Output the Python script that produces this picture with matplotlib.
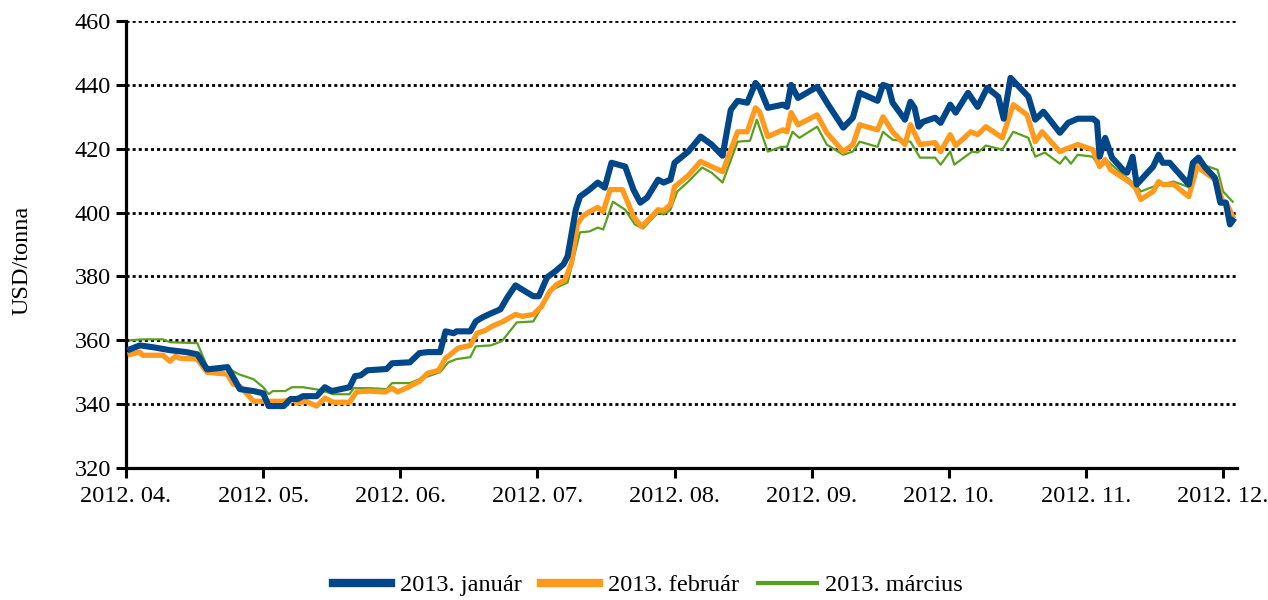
import matplotlib as mpl
mpl.use('Agg')
import matplotlib.pyplot as plt
from matplotlib.lines import Line2D

plt.rcParams['font.family'] = ['Liberation Serif', 'DejaVu Serif']

# x = months since 2012-04 (evenly spaced month axis), y = USD/tonna
month_labels = ['2012. 04.', '2012. 05.', '2012. 06.', '2012. 07.', '2012. 08.',
                '2012. 09.', '2012. 10.', '2012. 11.', '2012. 12.']

jan_x = [0.03, 0.10, 0.20, 0.32, 0.44, 0.52, 0.59, 0.66, 0.74, 0.83, 0.93, 1.00,
         1.04, 1.15, 1.20, 1.25, 1.29, 1.39, 1.45, 1.50, 1.63, 1.67, 1.71, 1.76,
         1.90, 1.94, 2.07, 2.14, 2.20, 2.29, 2.33, 2.39, 2.41, 2.51, 2.55, 2.60,
         2.66, 2.73, 2.78, 2.84, 2.90, 2.97, 3.01, 3.07, 3.13, 3.19, 3.22, 3.28,
         3.31, 3.38, 3.44, 3.49, 3.54, 3.64, 3.70, 3.75, 3.80, 3.88, 3.92, 3.97,
         4.00, 4.10, 4.19, 4.27, 4.35, 4.41, 4.46, 4.53, 4.59, 4.62, 4.68, 4.79,
         4.82, 4.85, 4.90, 5.04, 5.12, 5.23, 5.30, 5.35, 5.48, 5.52, 5.56, 5.59,
         5.68, 5.72, 5.75, 5.78, 5.81, 5.90, 5.94, 6.01, 6.05, 6.14, 6.21, 6.28,
         6.36, 6.40, 6.45, 6.58, 6.63, 6.69, 6.81, 6.87, 6.94, 7.05, 7.08, 7.10,
         7.14, 7.19, 7.27, 7.30, 7.34, 7.37, 7.49, 7.53, 7.56, 7.61, 7.75, 7.78,
         7.82, 7.87, 7.94, 7.98, 8.02, 8.05, 8.07]
jan_y = [357.2, 358.4, 357.8, 356.9, 356.3, 355.6, 350.9, 351.2, 351.6, 344.7, 344.1, 343.4,
         339.4, 339.4, 341.6, 341.6, 342.5, 342.5, 345.3, 344.1, 345.3, 348.8, 349.0, 350.6,
         351.0, 352.8, 353.1, 356.0, 356.3, 356.3, 362.8, 362.2, 362.8, 362.8, 365.9, 367.2,
         368.4, 369.7, 373.4, 377.2, 375.6, 373.8, 373.8, 379.7, 381.6, 383.8, 386.3, 401.0,
         405.0, 407.2, 409.4, 407.8, 415.6, 414.4, 407.2, 403.1, 404.7, 410.3, 409.4, 410.3,
         415.6, 419.1, 423.8, 421.3, 417.8, 432.2, 435.0, 434.4, 440.6, 439.1, 432.8, 433.8,
         433.1, 440.0, 435.9, 439.4, 433.8, 426.6, 429.7, 437.5, 435.0, 440.0, 439.4, 434.4,
         429.1, 434.7, 432.8, 426.9, 428.4, 429.7, 428.1, 433.8, 431.3, 437.5, 433.1, 439.1,
         436.3, 429.4, 442.2, 436.3, 429.1, 431.6, 425.0, 428.1, 429.4, 429.4, 428.4, 417.5,
         423.4, 417.2, 413.4, 412.5, 417.5, 408.8, 414.4, 418.1, 415.6, 415.6, 408.8, 415.6,
         417.2, 414.1, 410.9, 403.1, 403.1, 396.3, 397.5]

feb_x = [0.03, 0.10, 0.12, 0.27, 0.32, 0.36, 0.39, 0.52, 0.59, 0.66, 0.74, 0.78,
         0.83, 0.93, 1.03, 1.15, 1.22, 1.25, 1.31, 1.39, 1.45, 1.51, 1.63, 1.68,
         1.77, 1.89, 1.94, 1.98, 2.07, 2.14, 2.20, 2.28, 2.33, 2.35, 2.42, 2.51,
         2.56, 2.62, 2.67, 2.75, 2.84, 2.89, 2.97, 3.03, 3.09, 3.14, 3.20, 3.25,
         3.29, 3.33, 3.38, 3.44, 3.48, 3.53, 3.62, 3.70, 3.76, 3.88, 3.92, 3.97,
         4.00, 4.10, 4.19, 4.27, 4.35, 4.46, 4.53, 4.59, 4.62, 4.68, 4.79, 4.82,
         4.85, 4.90, 5.04, 5.11, 5.23, 5.30, 5.35, 5.48, 5.52, 5.59, 5.68, 5.72,
         5.79, 5.90, 5.94, 6.01, 6.05, 6.16, 6.21, 6.27, 6.39, 6.47, 6.57, 6.63,
         6.68, 6.81, 6.86, 6.94, 7.05, 7.10, 7.14, 7.18, 7.27, 7.32, 7.36, 7.40,
         7.49, 7.53, 7.56, 7.64, 7.75, 7.81, 7.87, 7.96, 7.99, 8.03, 8.07]
feb_y = [355.6, 356.3, 355.3, 355.3, 353.4, 355.0, 354.4, 354.1, 350.0, 349.7, 349.4, 346.3,
         345.6, 340.9, 340.9, 340.9, 341.6, 340.3, 340.9, 339.4, 341.9, 340.6, 340.6, 343.8,
         344.1, 343.8, 345.0, 343.8, 345.6, 347.2, 349.7, 350.6, 354.4, 355.0, 357.5, 358.4,
         362.2, 363.1, 364.4, 365.9, 368.1, 367.5, 368.1, 370.6, 375.3, 377.5, 378.8, 384.4,
         396.3, 398.8, 400.3, 401.6, 400.3, 407.2, 407.2, 398.8, 395.6, 400.9, 400.6, 402.5,
         408.1, 411.6, 416.0, 414.4, 412.8, 425.3, 425.3, 432.8, 431.6, 423.8, 425.9, 425.3,
         431.3, 427.5, 430.6, 425.0, 419.1, 421.3, 427.5, 425.9, 430.0, 425.3, 421.3, 427.5,
         421.3, 421.9, 419.1, 424.4, 421.0, 425.3, 424.4, 426.9, 423.4, 433.8, 430.6, 422.2,
         425.3, 419.1, 420.0, 421.3, 419.7, 414.4, 416.6, 413.4, 410.9, 409.4, 407.8, 404.1,
         406.6, 409.7, 408.8, 408.8, 405.0, 414.4, 412.5, 409.7, 404.1, 402.5, 398.8]

mar_x = [0.03, 0.12, 0.27, 0.32, 0.52, 0.59, 0.66, 0.74, 0.82, 0.93, 1.00, 1.04,
         1.07, 1.16, 1.21, 1.29, 1.42, 1.51, 1.63, 1.66, 1.78, 1.90, 1.94, 2.07,
         2.14, 2.29, 2.35, 2.41, 2.51, 2.55, 2.66, 2.74, 2.85, 2.97, 3.03, 3.11,
         3.22, 3.31, 3.38, 3.44, 3.48, 3.55, 3.64, 3.71, 3.77, 3.88, 3.92, 3.97,
         4.02, 4.10, 4.20, 4.27, 4.35, 4.46, 4.55, 4.60, 4.68, 4.78, 4.82, 4.86,
         4.91, 5.04, 5.11, 5.23, 5.30, 5.35, 5.48, 5.52, 5.59, 5.72, 5.79, 5.90,
         5.94, 6.01, 6.04, 6.17, 6.21, 6.27, 6.39, 6.47, 6.58, 6.63, 6.70, 6.81,
         6.85, 6.89, 6.94, 7.05, 7.10, 7.16, 7.27, 7.36, 7.40, 7.49, 7.64, 7.76,
         7.81, 7.96, 8.00, 8.07]
mar_y = [360.0, 360.3, 360.3, 359.4, 359.1, 351.9, 350.6, 351.3, 349.4, 347.8, 345.3, 343.1,
         344.1, 344.1, 345.3, 345.3, 344.4, 343.1, 343.1, 345.0, 345.0, 344.7, 346.6, 346.6,
         347.8, 350.0, 353.1, 354.1, 354.7, 358.1, 358.4, 359.7, 365.6, 365.9, 370.3, 375.9,
         378.1, 393.8, 394.1, 395.3, 394.7, 403.4, 400.9, 396.3, 395.0, 400.0, 399.4, 400.9,
         406.6, 409.7, 414.1, 412.5, 409.4, 422.2, 422.5, 429.1, 419.1, 420.6, 420.6, 425.3,
         423.4, 426.9, 421.3, 418.1, 419.1, 422.2, 420.6, 425.3, 422.8, 422.2, 417.2, 417.2,
         415.0, 419.1, 415.0, 419.1, 418.8, 421.0, 419.7, 425.3, 423.4, 417.5, 418.8, 415.3,
         417.5, 415.3, 418.1, 417.5, 414.1, 416.0, 411.9, 408.8, 406.6, 408.1, 409.7, 407.8,
         415.6, 413.4, 406.6, 403.4]

series_names = ['2013. január', '2013. február', '2013. március']
colors = ['#00478A', '#FF9A1C', '#59A01F']

fig = plt.figure(figsize=(12.68, 6.0), dpi=100)
ax = fig.add_axes([0.0994, 0.22, 0.876, 0.745])

ax.plot(mar_x, mar_y, color=colors[2], lw=1.6, zorder=3, solid_joinstyle='round')
ax.plot(feb_x, feb_y, color=colors[1], lw=3.8, zorder=4, solid_joinstyle='round')
ax.plot(jan_x, jan_y, color=colors[0], lw=4.4, zorder=5, solid_joinstyle='round')

ax.set_xlim(0, 8.1)
ax.set_ylim(320, 460)
ax.set_yticks(range(320, 461, 20))
ax.set_xticks(range(len(month_labels)))
ax.set_xticklabels(month_labels)

# dotted gridlines (no line at the 320 baseline)
for v in range(340, 461, 20):
    ax.axhline(v, color='black', lw=2.0, ls=(0, (1.1, 1.1)), zorder=1)

for s in ['top', 'right']:
    ax.spines[s].set_visible(False)
for s in ['left', 'bottom']:
    ax.spines[s].set_linewidth(2.3)

ax.tick_params(axis='both', direction='out', length=7, width=2.2,
               labelsize=17.5, colors='black')
ax.tick_params(axis='x', pad=6)
ax.tick_params(axis='y', pad=4)
ax.set_ylabel('USD/tonna', fontsize=17.5)
ax.yaxis.set_label_coords(-0.084, 0.465)

handles = [Line2D([], [], color=colors[0], lw=6),
           Line2D([], [], color=colors[1], lw=6),
           Line2D([], [], color=colors[2], lw=3)]
fig.legend(handles, series_names, loc='center', bbox_to_anchor=(0.511, 0.025),
           ncol=3, frameon=False, fontsize=17.5, handlelength=2.4,
           handletextpad=0.35, columnspacing=0.8)

plt.savefig('out.png', dpi=100)
